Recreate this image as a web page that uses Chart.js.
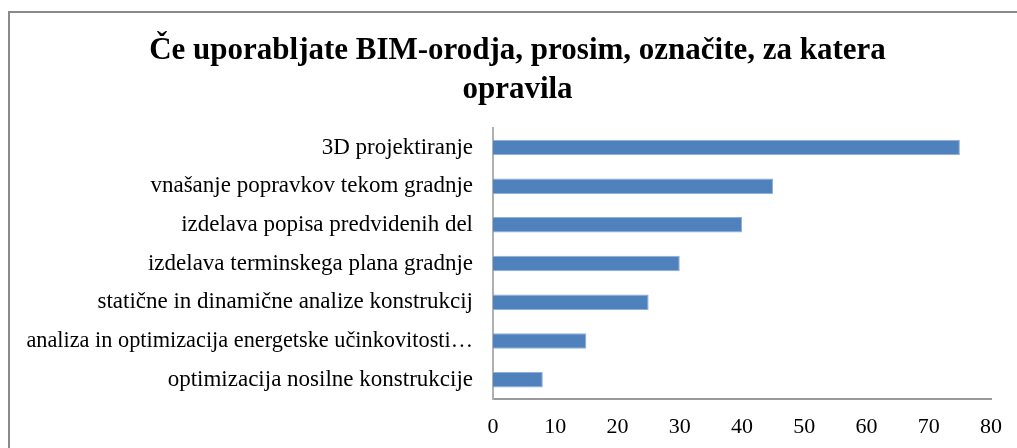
<!DOCTYPE html>
<html lang="sl">
<head>
  <meta charset="UTF-8">
  <title>BIM-orodja</title>
  <style>
    html, body {
      margin: 0;
      padding: 0;
      width: 1017px;
      height: 448px;
      overflow: hidden;
      background: #fff;
    }
    #frame {
      position: absolute;
      left: 8px;
      top: 11px;
      width: 1040px;
      height: 480px;
      border: 2px solid #8a8a8a;
    }
    #wrap {
      position: absolute;
      left: 0;
      top: 0;
      width: 1017px;
      height: 448px;
    }
  </style>
  <script src="https://cdn.jsdelivr.net/npm/chart.js"></script>
</head>
<body>
  <div id="frame"></div>
  <div id="wrap"><canvas id="myChart" width="1017" height="448"></canvas></div>

  <script>
    // podatki
    const naslov = ['Če uporabljate BIM-orodja, prosim, označite, za katera', 'opravila'];
    const opravila = [
      '3D projektiranje',
      'vnašanje popravkov tekom gradnje',
      'izdelava popisa predvidenih del',
      'izdelava terminskega plana gradnje',
      'statične in dinamične analize konstrukcij',
      'analiza in optimizacija energetske učinkovitosti…',
      'optimizacija nosilne konstrukcije'
    ];
    const vrednosti = [75, 45, 40, 30, 25, 15, 8];
    const xTicks = [0, 10, 20, 30, 40, 50, 60, 70, 80];

    const serif = '"Liberation Serif", "Times New Roman", serif';

    // naslov centriran med levim robom okvirja in koncem osi
    const titleShift = {
      id: 'titleShift',
      afterLayout(chart) {
        if (chart.titleBlock) chart.titleBlock.left = 42;
      }
    };

    const ctx = document.getElementById('myChart').getContext('2d');
    const myChart = new Chart(ctx, {
      type: 'bar',
      data: {
        labels: opravila,
        datasets: [{
          data: vrednosti,
          backgroundColor: '#4F81BD',
          borderColor: '#8fb0d8',
          borderWidth: 1,
          borderSkipped: 'start',
          categoryPercentage: 1,
          barPercentage: 0.4
        }]
      },
      plugins: [titleShift],
      options: {
        indexAxis: 'y',
        responsive: false,
        animation: false,
        layout: { padding: { left: 0, right: 24, top: 0, bottom: 0 } },
        plugins: {
          legend: { display: false },
          tooltip: { enabled: false },
          title: {
            display: true,
            text: naslov,
            color: '#000',
            font: { family: serif, size: 31, weight: 'bold', lineHeight: 1.26 },
            padding: { top: 31, bottom: 19 }
          }
        },
        scales: {
          x: {
            min: 0,
            max: 80,
            afterBuildTicks: (s) => { s.ticks = xTicks.map(v => ({ value: v })); },
            afterFit: (s) => { s.height = 49; },
            grid: { display: false, drawTicks: false },
            border: { display: true, color: '#9a9a9a', width: 2 },
            ticks: {
              color: '#000',
              padding: 15,
              font: { family: serif, size: 22 },
              maxRotation: 0
            }
          },
          y: {
            afterFit: (s) => { s.width = 493; },
            grid: { display: false, drawTicks: false },
            border: { display: true, color: '#b0b0b0', width: 2 },
            ticks: {
              color: '#000',
              padding: 20,
              // dolga oznaka malo manjša, da ostane znotraj okvirja
              font: (c) => ({ family: serif, size: c.index === 5 ? 22.3 : 23 }),
              autoSkip: false
            }
          }
        }
      }
    });
  </script>
</body>
</html>
